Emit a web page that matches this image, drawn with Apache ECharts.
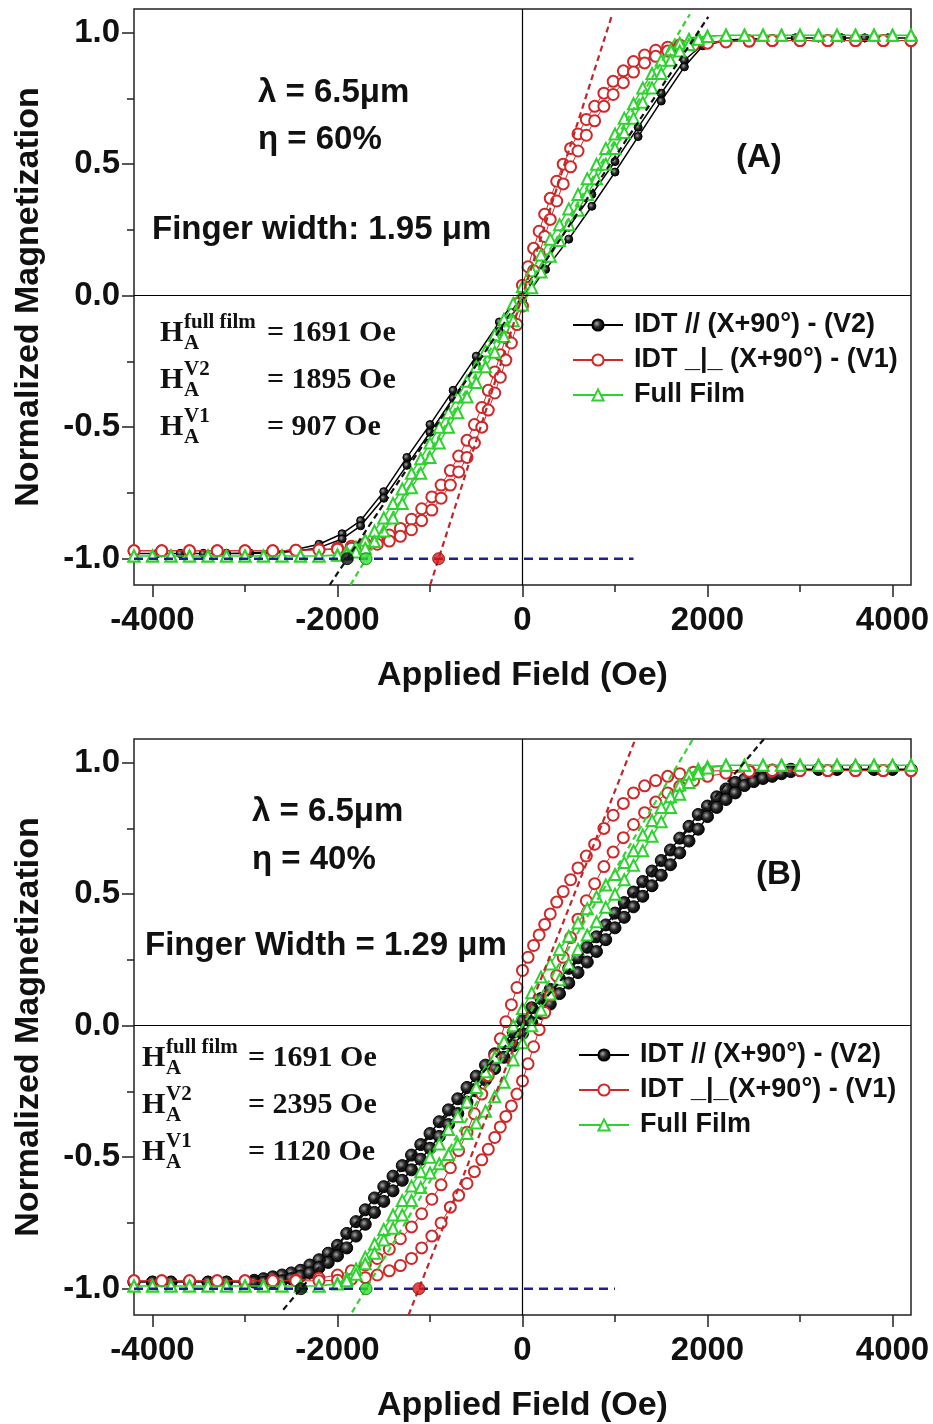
<!DOCTYPE html>
<html><head><meta charset="utf-8">
<script src="https://cdn.jsdelivr.net/npm/echarts@6/dist/echarts.min.js"></script>
<style>html,body{margin:0;padding:0;background:#fff}#chart{width:933px;height:1424px}</style>
</head><body><div id="chart"></div>
<script>
// ---------------- DATA ----------------
const xTickLabels = [-4000, -2000, 0, 2000, 4000];
const xMinorTicks = [-3000, -1000, 1000, 3000];
const yTickLabels = [-1, -0.5, 0, 0.5, 1];
const yMinorTicks = [-0.75, -0.25, 0.25, 0.75];

const nameV2 = 'IDT // (X+90°) - (V2)';
const nameV1A = 'IDT _|_ (X+90°) - (V1)';
const nameV1B = 'IDT _|_(X+90°) - (V1)';
const nameFull = 'Full Film';

// anisotropy fields [V2, V1, full film] (Oe)
const hA_A = [1895, 907, 1691];
const hA_B = [2395, 1120, 1691];
// extent of fitted slope lines (normalized M) [V2, V1, full film]
const slopeLoA = [-1.1, -1.1, -1.1];
const slopeHiA = [1.06, 1.07, 1.07];
const slopeLoB = [-1.08, -1.1, -1.09];
const slopeHiB = [1.09, 1.1, 1.1];
// dashed reference line at M = -1
const refLevel = -1;
const refLineA = [-4200, 1200];
const refLineB = [-4200, 1000];

// ---- Panel A : V2 (black) ----
const fieldBlackA = [-4200,-3950,-3700,-3450,-3200,-2950,-2700,-2450,-2200,-1950,-1750,-1500,-1250,-1000,-750,-500,-250,0,250,500,750,1000,1250,1500,1750,1950,2200,2450,2700,2950,3200,3450,3700,3950,4200];
const mBlackA_down = [-0.98,-0.98,-0.98,-0.98,-0.98,-0.978,-0.975,-0.965,-0.945,-0.905,-0.855,-0.745,-0.615,-0.49,-0.36,-0.23,-0.10,0.02,0.14,0.26,0.385,0.51,0.64,0.77,0.895,0.955,0.972,0.976,0.978,0.98,0.98,0.98,0.98,0.98,0.98];
const mBlackA_up = [-0.98,-0.98,-0.98,-0.98,-0.98,-0.98,-0.978,-0.972,-0.958,-0.925,-0.875,-0.77,-0.645,-0.52,-0.39,-0.26,-0.135,-0.02,0.10,0.215,0.34,0.47,0.605,0.74,0.87,0.95,0.97,0.975,0.978,0.98,0.98,0.98,0.98,0.98,0.98];

// ---- V1 (red), shared field grid ----
const fieldRed = [-4200,-3900,-3600,-3300,-3000,-2700,-2450,-2200,-2000,-1850,-1700,-1570,-1440,-1320,-1200,-1090,-980,-880,-780,-690,-600,-520,-440,-370,-300,-240,-180,-120,-60,0,60,120,180,240,300,370,440,520,600,690,780,880,980,1090,1200,1320,1440,1570,1700,1850,2000,2200,2450,2700,3000,3300,3600,3900,4200];
const mRedA_down = [-0.97,-0.97,-0.97,-0.97,-0.97,-0.97,-0.968,-0.965,-0.96,-0.953,-0.943,-0.93,-0.91,-0.885,-0.85,-0.81,-0.765,-0.72,-0.665,-0.61,-0.55,-0.49,-0.425,-0.36,-0.29,-0.225,-0.16,-0.095,-0.03,0.04,0.11,0.18,0.245,0.31,0.37,0.435,0.5,0.56,0.615,0.67,0.72,0.77,0.815,0.855,0.89,0.915,0.933,0.945,0.953,0.96,0.964,0.967,0.968,0.97,0.97,0.97,0.97,0.97,0.97];
const mRedA_up = [-0.97,-0.97,-0.97,-0.97,-0.97,-0.97,-0.968,-0.967,-0.964,-0.96,-0.953,-0.945,-0.933,-0.915,-0.89,-0.855,-0.815,-0.77,-0.72,-0.67,-0.615,-0.56,-0.5,-0.435,-0.37,-0.31,-0.245,-0.18,-0.11,-0.04,0.03,0.095,0.16,0.225,0.29,0.36,0.425,0.49,0.55,0.61,0.665,0.72,0.765,0.81,0.85,0.885,0.91,0.93,0.943,0.953,0.96,0.965,0.968,0.97,0.97,0.97,0.97,0.97,0.97];
const mRedB_down = [-0.97,-0.97,-0.97,-0.97,-0.97,-0.97,-0.967,-0.96,-0.948,-0.932,-0.91,-0.885,-0.85,-0.81,-0.765,-0.715,-0.66,-0.605,-0.54,-0.475,-0.405,-0.335,-0.26,-0.19,-0.115,-0.05,0.015,0.08,0.145,0.21,0.26,0.305,0.345,0.385,0.425,0.47,0.51,0.555,0.6,0.645,0.69,0.75,0.8,0.845,0.885,0.912,0.932,0.948,0.958,0.964,0.968,0.97,0.97,0.97,0.97,0.97,0.97,0.97,0.97];
const mRedB_up = [-0.97,-0.97,-0.97,-0.97,-0.97,-0.97,-0.97,-0.97,-0.968,-0.964,-0.958,-0.948,-0.932,-0.912,-0.885,-0.845,-0.8,-0.75,-0.69,-0.645,-0.6,-0.555,-0.51,-0.47,-0.425,-0.385,-0.345,-0.305,-0.26,-0.21,-0.145,-0.08,-0.015,0.05,0.115,0.19,0.26,0.335,0.405,0.475,0.54,0.605,0.66,0.715,0.765,0.81,0.85,0.885,0.91,0.932,0.948,0.96,0.967,0.97,0.97,0.97,0.97,0.97,0.97];

// ---- Full film (green), shared field grid ----
const fieldGreen = [-4200,-4000,-3800,-3600,-3400,-3200,-3000,-2800,-2600,-2400,-2200,-2000,-1900,-1800,-1700,-1600,-1500,-1400,-1300,-1200,-1100,-1000,-900,-800,-700,-600,-500,-400,-300,-200,-100,0,100,200,300,400,500,600,700,800,900,1000,1100,1200,1300,1400,1500,1600,1700,1800,1900,2000,2200,2400,2600,2800,3000,3200,3400,3600,3800,4000,4200];
const mGreenA_down = [-0.99,-0.99,-0.99,-0.99,-0.99,-0.99,-0.99,-0.99,-0.99,-0.99,-0.99,-0.985,-0.975,-0.955,-0.93,-0.895,-0.845,-0.79,-0.735,-0.675,-0.62,-0.56,-0.5,-0.445,-0.385,-0.325,-0.27,-0.21,-0.15,-0.09,-0.03,0.035,0.095,0.155,0.215,0.27,0.33,0.385,0.445,0.5,0.56,0.615,0.675,0.73,0.79,0.845,0.895,0.935,0.96,0.975,0.983,0.987,0.99,0.99,0.99,0.99,0.99,0.99,0.99,0.99,0.99,0.99,0.99];
const mGreenA_up = [-0.99,-0.99,-0.99,-0.99,-0.99,-0.99,-0.99,-0.99,-0.99,-0.99,-0.99,-0.987,-0.983,-0.975,-0.96,-0.935,-0.895,-0.845,-0.79,-0.73,-0.675,-0.615,-0.56,-0.5,-0.445,-0.385,-0.33,-0.27,-0.215,-0.155,-0.095,-0.035,0.03,0.09,0.15,0.21,0.27,0.325,0.385,0.445,0.5,0.56,0.62,0.675,0.735,0.79,0.845,0.895,0.93,0.955,0.975,0.985,0.99,0.99,0.99,0.99,0.99,0.99,0.99,0.99,0.99,0.99,0.99];
const mGreenB_down = [-0.99,-0.99,-0.99,-0.99,-0.99,-0.99,-0.99,-0.99,-0.99,-0.99,-0.99,-0.98,-0.96,-0.925,-0.88,-0.83,-0.775,-0.72,-0.665,-0.61,-0.555,-0.5,-0.45,-0.395,-0.345,-0.29,-0.235,-0.175,-0.12,-0.06,0.0,0.065,0.125,0.185,0.235,0.29,0.34,0.39,0.445,0.49,0.535,0.575,0.62,0.665,0.725,0.78,0.83,0.87,0.915,0.955,0.975,0.985,0.99,0.99,0.99,0.99,0.99,0.99,0.99,0.99,0.99,0.99,0.99];
const mGreenB_up = [-0.99,-0.99,-0.99,-0.99,-0.99,-0.99,-0.99,-0.99,-0.99,-0.99,-0.99,-0.982,-0.97,-0.945,-0.905,-0.865,-0.815,-0.77,-0.72,-0.665,-0.615,-0.56,-0.525,-0.49,-0.45,-0.41,-0.37,-0.325,-0.27,-0.215,-0.13,-0.065,0.0,0.06,0.12,0.175,0.235,0.29,0.345,0.395,0.45,0.5,0.555,0.61,0.665,0.72,0.775,0.83,0.88,0.925,0.96,0.98,0.99,0.99,0.99,0.99,0.99,0.99,0.99,0.99,0.99,0.99,0.99];

// ---- Panel B : V2 (black) ----
const fieldBlackB = [-4200,-4000,-3800,-3600,-3400,-3200,-3000,-2900,-2800,-2700,-2600,-2500,-2400,-2300,-2200,-2100,-2000,-1900,-1800,-1700,-1600,-1500,-1400,-1300,-1200,-1100,-1000,-900,-800,-700,-600,-500,-400,-300,-200,-100,0,100,200,300,400,500,600,700,800,900,1000,1100,1200,1300,1400,1500,1600,1700,1800,1900,2000,2100,2200,2300,2400,2500,2600,2700,2800,2900,3000,3200,3400,3600,3800,4000,4200];
const mBlackB_down = [-0.975,-0.975,-0.975,-0.975,-0.975,-0.975,-0.975,-0.968,-0.962,-0.955,-0.948,-0.94,-0.93,-0.91,-0.89,-0.865,-0.835,-0.79,-0.745,-0.70,-0.655,-0.612,-0.572,-0.532,-0.492,-0.452,-0.41,-0.365,-0.32,-0.278,-0.235,-0.192,-0.15,-0.107,-0.067,-0.025,0.02,0.068,0.103,0.138,0.178,0.218,0.258,0.298,0.338,0.383,0.428,0.468,0.508,0.548,0.588,0.628,0.668,0.713,0.758,0.803,0.835,0.87,0.9,0.925,0.937,0.952,0.964,0.972,0.974,0.975,0.975,0.975,0.975,0.975,0.975,0.975,0.975];
const mBlackB_up = [-0.975,-0.975,-0.975,-0.975,-0.975,-0.975,-0.975,-0.975,-0.975,-0.974,-0.97,-0.962,-0.952,-0.94,-0.92,-0.9,-0.875,-0.845,-0.8,-0.755,-0.71,-0.668,-0.628,-0.588,-0.548,-0.508,-0.466,-0.421,-0.376,-0.334,-0.291,-0.248,-0.206,-0.163,-0.12,-0.076,-0.03,0.012,0.047,0.082,0.122,0.162,0.202,0.242,0.282,0.327,0.372,0.412,0.452,0.492,0.532,0.572,0.612,0.657,0.702,0.747,0.795,0.83,0.86,0.885,0.913,0.928,0.94,0.948,0.958,0.966,0.975,0.975,0.975,0.975,0.975,0.975,0.975];

// ---------------- STYLE ----------------
const SANS = '"Liberation Sans", Arial, sans-serif';
const SERIF = '"Liberation Serif", "Times New Roman", serif';
const INK = '#111';
const RED = '#d02828';
const GREEN = '#2ed22e';
const BLUE = '#1e1e96';
const ballFill = { type: 'radial', x: 0.4, y: 0.4, r: 0.6,
  colorStops: [{ offset: 0, color: '#a8a8a8' }, { offset: 0.45, color: '#2a2a2a' }, { offset: 1, color: '#000' }] };

function loop(fields, down, up) {
  const d = [];
  for (let i = fields.length - 1; i >= 0; i--) d.push([fields[i], down[i]]);
  for (let i = 0; i < fields.length; i++) d.push([fields[i], up[i]]);
  return d;
}

const gridA = { left: 134, top: 9, width: 777, height: 576 };
const gridB = { left: 134, top: 739, width: 777, height: 576 };

function xAxes(gi) {
  return [{
    gridIndex: gi, type: 'value', min: -4200, max: 4200, position: 'bottom',
    axisLine: { show: false, onZero: false }, splitLine: { show: false },
    axisTick: { show: true, customValues: xTickLabels, length: 12, lineStyle: { color: '#222', width: 1.5 } },
    axisLabel: { customValues: xTickLabels, formatter: v => String(v), margin: 19, color: INK,
      fontFamily: SANS, fontWeight: 'bold', fontSize: 33 },
    name: 'Applied Field (Oe)', nameLocation: 'middle', nameGap: 74,
    nameTextStyle: { fontFamily: SANS, fontWeight: 'bold', fontSize: 34, color: INK }
  }, {
    gridIndex: gi, type: 'value', min: -4200, max: 4200, position: 'bottom',
    axisLine: { show: false, onZero: false }, splitLine: { show: false }, axisLabel: { show: false },
    axisTick: { show: true, customValues: xMinorTicks, length: 7, lineStyle: { color: '#222', width: 1.5 } }
  }];
}
function yAxes(gi) {
  return [{
    gridIndex: gi, type: 'value', min: -1.1, max: 1.09, position: 'left',
    axisLine: { show: false, onZero: false }, splitLine: { show: false },
    axisTick: { show: true, customValues: yTickLabels, length: 12, lineStyle: { color: '#222', width: 1.5 } },
    axisLabel: { customValues: yTickLabels, formatter: v => v.toFixed(1), margin: 14, color: INK,
      fontFamily: SANS, fontWeight: 'bold', fontSize: 33 },
    name: 'Normalized Magnetization', nameLocation: 'middle', nameGap: 88, nameRotate: 90,
    nameTextStyle: { fontFamily: SANS, fontWeight: 'bold', fontSize: 34, color: INK }
  }, {
    gridIndex: gi, type: 'value', min: -1.1, max: 1.09, position: 'left',
    axisLine: { show: false, onZero: false }, splitLine: { show: false }, axisLabel: { show: false },
    axisTick: { show: true, customValues: yMinorTicks, length: 7, lineStyle: { color: '#222', width: 1.5 } }
  }];
}

function panelSeries(xi, yi, p) {
  const common = { xAxisIndex: xi, yAxisIndex: yi, animation: false };
  const s = [];
  s.push(Object.assign({
    name: nameV2, type: 'line', data: loop(p.bf, p.bd, p.bu),
    symbol: 'circle', symbolSize: p.bSize,
    itemStyle: { color: ballFill, borderColor: '#000', borderWidth: 1 },
    lineStyle: { color: '#000', width: 1.5 },
    markLine: { silent: true, symbol: 'none', label: { show: false },
      lineStyle: { color: '#000', width: 1.2, type: 'solid' },
      data: [{ xAxis: 0 }, { yAxis: 0 }] },
    z: 2
  }, common));
  s.push(Object.assign({
    name: p.v1Name, type: 'line', data: loop(fieldRed, p.rd, p.ru),
    symbol: 'emptyCircle', symbolSize: 11,
    itemStyle: { color: RED, borderWidth: 1.3 },
    lineStyle: { color: RED, width: 1 }, z: 3
  }, common));
  s.push(Object.assign({
    name: nameFull, type: 'line', data: loop(fieldGreen, p.gd, p.gu),
    symbol: 'emptyTriangle', symbolSize: 11,
    itemStyle: { color: GREEN, borderWidth: 1.3 },
    lineStyle: { color: GREEN, width: 1.5 }, z: 4
  }, common));
  const slopeColors = ['#111', '#c0262a', '#35d435'];
  for (let k = 0; k < 3; k++) {
    const h = p.h[k];
    s.push(Object.assign({
      type: 'line', data: [[p.lo[k] * h, p.lo[k]], [p.hi[k] * h, p.hi[k]]],
      symbol: 'none', silent: true,
      lineStyle: { color: slopeColors[k], width: 2.2, type: [6, 4] }, z: 5
    }, common));
  }
  s.push(Object.assign({
    type: 'line', data: [[p.ref[0], refLevel], [p.ref[1], refLevel]],
    symbol: 'none', silent: true,
    lineStyle: { color: BLUE, width: 2.5, type: [9, 6] }, z: 5
  }, common));
  const dotColors = [['#111', '#000'], ['#e01818', '#7a1010'], ['#2ee02e', '#137013']];
  s.push(Object.assign({
    type: 'scatter', silent: true, symbolSize: 12,
    data: p.h.map((h, k) => ({ value: [-h, refLevel], itemStyle: { color: dotColors[k][0], borderColor: dotColors[k][1], borderWidth: 1 } })),
    z: 6
  }, common));
  return s;
}

const series = [].concat(
  panelSeries(0, 0, { bf: fieldBlackA, bd: mBlackA_down, bu: mBlackA_up, bSize: 8,
    rd: mRedA_down, ru: mRedA_up, gd: mGreenA_down, gu: mGreenA_up,
    h: hA_A, lo: slopeLoA, hi: slopeHiA, ref: refLineA, v1Name: nameV1A }),
  panelSeries(2, 2, { bf: fieldBlackB, bd: mBlackB_down, bu: mBlackB_up, bSize: 12,
    rd: mRedB_down, ru: mRedB_up, gd: mGreenB_down, gu: mGreenB_up,
    h: hA_B, lo: slopeLoB, hi: slopeHiB, ref: refLineB, v1Name: nameV1B })
);

function T(x, y, text, font, color) {
  return { type: 'text', x: x, y: y, silent: true, z: 50,
    style: { text: text, font: font, fill: color || INK, align: 'left', verticalAlign: 'middle',
      textAlign: 'left', textVerticalAlign: 'middle' } };
}
const fBig = 'bold 33px ' + SANS;
const fH = 'bold 30px ' + SERIF;
const fS = 'bold 21px ' + SERIF;
function hBlock(x, xEq, yc, sup, val) {
  return [T(x, yc, 'H', fH), T(x + 24, yc - 10, sup, fS), T(x + 24, yc + 11, 'A', fS), T(xEq, yc, '= ' + val + ' Oe', fH)];
}

const graphic = [].concat(
  [T(258, 93, 'λ = 6.5μm', fBig), T(258, 140, 'η = 60%', fBig),
   T(152, 230, 'Finger width: 1.95 μm', fBig), T(736, 158, '(A)', fBig)],
  hBlock(160, 267, 333, 'full film', hA_A[2]),
  hBlock(160, 267, 380, 'V2', hA_A[0]),
  hBlock(160, 267, 427, 'V1', hA_A[1]),
  [T(252, 812, 'λ = 6.5μm', fBig), T(252, 860, 'η = 40%', fBig),
   T(145, 946, 'Finger Width = 1.29 μm', fBig), T(756, 875, '(B)', fBig)],
  hBlock(142, 248, 1058, 'full film', hA_B[2]),
  hBlock(142, 248, 1105, 'V2', hA_B[0]),
  hBlock(142, 248, 1152, 'V1', hA_B[1])
);

const legendCommon = {
  orient: 'vertical', itemWidth: 50, itemHeight: 14, itemGap: 5, selectedMode: false,
  padding: 0,
  textStyle: { fontFamily: SANS, fontWeight: 'bold', fontSize: 27, color: INK, lineHeight: 30, padding: [0, 0, 0, 6] }
};

const option = {
  backgroundColor: '#fff',
  animation: false,
  grid: [
    Object.assign({ show: true, borderColor: '#222', borderWidth: 1.5, backgroundColor: 'transparent' }, gridA),
    Object.assign({ show: true, borderColor: '#222', borderWidth: 1.5, backgroundColor: 'transparent' }, gridB)
  ],
  xAxis: xAxes(0).concat(xAxes(1)),
  yAxis: yAxes(0).concat(yAxes(1)),
  legend: [
    Object.assign({ left: 572, top: 310, data: [nameV2, nameV1A, nameFull] }, legendCommon),
    Object.assign({ left: 578, top: 1040, data: [nameV2, nameV1B, nameFull] }, legendCommon)
  ],
  series: series,
  graphic: graphic
};

const chart = echarts.init(document.getElementById('chart'), null, { renderer: 'canvas' });
chart.setOption(option);
</script></body></html>
